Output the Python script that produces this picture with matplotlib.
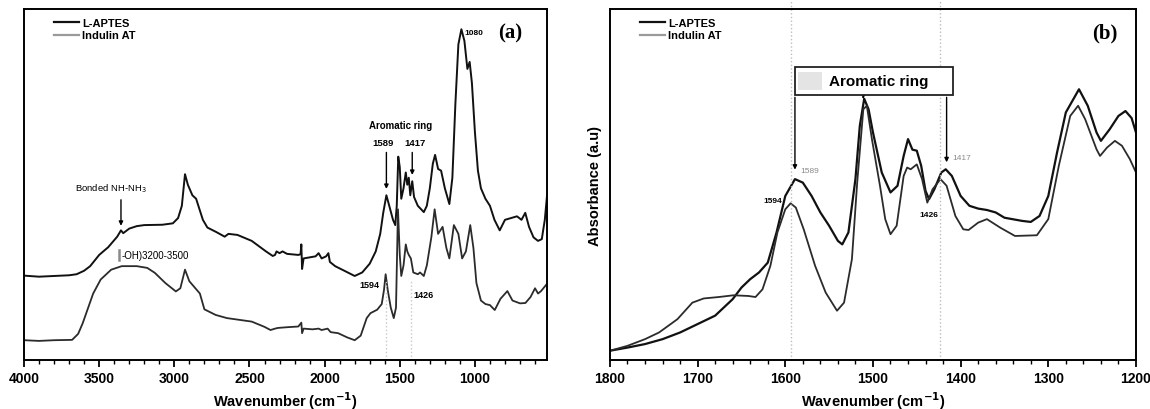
import matplotlib
matplotlib.use("Agg")
import matplotlib.pyplot as plt
from matplotlib.lines import Line2D
from matplotlib.patches import Rectangle
from matplotlib.ticker import MultipleLocator, NullLocator

plt.rcParams['font.family'] = ['Liberation Sans', 'DejaVu Sans']

# ---- panel (a): full range (relative absorbance, stacked)
a_wn_laptes = [4000, 3900, 3800, 3700, 3650, 3600, 3560, 3500, 3440, 3380, 3355, 3340, 3300, 3250, 3200,
               3080, 3010, 2975, 2950, 2929, 2910, 2880, 2855, 2840, 2810, 2780, 2720, 2665, 2640, 2580,
               2485, 2390, 2345, 2330, 2320, 2300, 2280, 2250, 2175, 2160, 2155, 2150, 2140, 2100, 2060,
               2040, 2020, 1990, 1975, 1965, 1930, 1860, 1800, 1750, 1700, 1660, 1630, 1610, 1589, 1570,
               1545, 1530, 1520, 1510, 1500, 1490, 1475, 1460, 1450, 1440, 1430, 1417, 1405, 1380, 1340,
               1320, 1300, 1280, 1265, 1245, 1225, 1200, 1170, 1150, 1130, 1110, 1090, 1070, 1050, 1035,
               1020, 1000, 980, 960, 930, 900, 870, 835, 800, 760, 720, 690, 665, 640, 610,
               580, 555, 535, 520]
a_laptes = [0.241, 0.238, 0.240, 0.242, 0.245, 0.255, 0.268, 0.300, 0.322, 0.352, 0.370, 0.362, 0.375, 0.382, 0.385,
            0.386, 0.390, 0.405, 0.440, 0.530, 0.500, 0.470, 0.460, 0.440, 0.400, 0.378, 0.365, 0.352, 0.360, 0.357,
            0.340, 0.310, 0.297, 0.300, 0.310, 0.305, 0.310, 0.303, 0.300, 0.302, 0.330, 0.260, 0.290, 0.293, 0.296,
            0.305, 0.290, 0.296, 0.305, 0.280, 0.268, 0.253, 0.240, 0.250, 0.275, 0.310, 0.360, 0.420, 0.470, 0.440,
            0.400, 0.385, 0.440, 0.580, 0.550, 0.460, 0.490, 0.535, 0.500, 0.520, 0.470, 0.510, 0.465, 0.440, 0.422,
            0.440, 0.490, 0.560, 0.585, 0.545, 0.540, 0.490, 0.445, 0.520, 0.730, 0.900, 0.943, 0.910, 0.830, 0.850,
            0.790, 0.650, 0.540, 0.490, 0.460, 0.440, 0.400, 0.370, 0.400, 0.405, 0.410, 0.400, 0.420, 0.380, 0.350,
            0.340, 0.345, 0.400, 0.470]

a_wn_indulin = [4000, 3900, 3800, 3680, 3640, 3610, 3540, 3490, 3420, 3350, 3250, 3180, 3130, 3060, 2990,
                2960, 2929, 2900, 2850, 2830, 2800, 2725, 2650, 2485, 2400, 2360, 2330, 2310, 2250, 2175,
                2155, 2150, 2140, 2080, 2040, 2020, 1980, 1960, 1910, 1850, 1800, 1760, 1720, 1695, 1650,
                1620, 1605, 1594, 1580, 1560, 1540, 1525, 1512, 1500, 1490, 1475, 1460, 1450, 1440, 1426,
                1410, 1380, 1365, 1340, 1320, 1290, 1268, 1245, 1215, 1190, 1170, 1140, 1110, 1085, 1060,
                1031, 1010, 990, 960, 930, 900, 868, 830, 784, 750, 700, 664, 630, 600, 580,
                560, 535, 520]
a_indulin = [0.057, 0.055, 0.057, 0.058, 0.075, 0.105, 0.190, 0.230, 0.258, 0.268, 0.268, 0.263, 0.249, 0.220, 0.196,
             0.205, 0.258, 0.225, 0.200, 0.190, 0.145, 0.129, 0.120, 0.110, 0.095, 0.086, 0.090, 0.092, 0.094, 0.096,
             0.107, 0.077, 0.090, 0.088, 0.090, 0.086, 0.090, 0.080, 0.077, 0.065, 0.057, 0.070, 0.120, 0.134, 0.144,
             0.160, 0.200, 0.245, 0.200, 0.150, 0.120, 0.150, 0.430, 0.300, 0.240, 0.270, 0.330, 0.310, 0.300, 0.290,
             0.250, 0.245, 0.250, 0.240, 0.270, 0.350, 0.430, 0.360, 0.380, 0.320, 0.290, 0.385, 0.360, 0.290, 0.310,
             0.385, 0.320, 0.220, 0.170, 0.160, 0.157, 0.143, 0.175, 0.197, 0.170, 0.162, 0.163, 0.180, 0.205, 0.190,
             0.197, 0.210, 0.218]

# ---- panel (b): 1800-1200 zoom
b_wn_laptes = [1800, 1780, 1760, 1740, 1720, 1700, 1680, 1660, 1650, 1640, 1630, 1620, 1610, 1600, 1589,
               1580, 1570, 1560, 1550, 1540, 1535, 1528, 1520, 1515, 1510, 1505, 1500, 1490, 1480, 1472,
               1465, 1460, 1455, 1450, 1445, 1440, 1436, 1430, 1422, 1417, 1410, 1400, 1390, 1380, 1370,
               1360, 1350, 1330, 1320, 1310, 1300, 1290, 1280, 1265, 1255, 1245, 1240, 1230, 1220, 1212,
               1205, 1200]
b_laptes = [0.027, 0.036, 0.046, 0.060, 0.079, 0.103, 0.127, 0.174, 0.207, 0.231, 0.250, 0.278, 0.364, 0.468, 0.516,
            0.506, 0.468, 0.421, 0.383, 0.340, 0.330, 0.364, 0.516, 0.668, 0.745, 0.715, 0.649, 0.535, 0.478, 0.497,
            0.582, 0.630, 0.600, 0.597, 0.554, 0.482, 0.459, 0.487, 0.535, 0.544, 0.525, 0.468, 0.440, 0.432, 0.428,
            0.421, 0.406, 0.397, 0.394, 0.411, 0.468, 0.592, 0.706, 0.772, 0.725, 0.649, 0.625, 0.658, 0.696, 0.710,
            0.690, 0.649]

b_wn_indulin = [1800, 1780, 1760, 1744, 1723, 1706, 1693, 1676, 1659, 1642, 1634, 1626, 1617, 1609, 1600,
                1594, 1588, 1579, 1566, 1554, 1541, 1533, 1524, 1518, 1511, 1507, 1501, 1492, 1486, 1480,
                1473, 1465, 1461, 1457, 1450, 1444, 1438, 1432, 1423, 1416, 1406, 1397, 1391, 1380, 1370,
                1355, 1338, 1313, 1300, 1288, 1275, 1266, 1258, 1245, 1241, 1233, 1224, 1216, 1207, 1200]
b_indulin = [0.027, 0.041, 0.060, 0.079, 0.117, 0.164, 0.176, 0.180, 0.185, 0.183, 0.180, 0.202, 0.269, 0.364, 0.430,
             0.447, 0.435, 0.373, 0.269, 0.193, 0.141, 0.164, 0.288, 0.506, 0.715, 0.725, 0.627, 0.497, 0.402, 0.359,
             0.383, 0.525, 0.549, 0.544, 0.558, 0.516, 0.449, 0.487, 0.516, 0.497, 0.411, 0.373, 0.371, 0.392, 0.402,
             0.378, 0.354, 0.356, 0.402, 0.554, 0.696, 0.725, 0.687, 0.601, 0.582, 0.606, 0.625, 0.611, 0.573, 0.535]

names = ['L-APTES', 'Indulin AT']
c_laptes = '#111111'
c_indulin = '#2b2b2b'

fig = plt.figure(figsize=(11.5, 4.1), dpi=100)
axa = fig.add_axes([0.0209, 0.119, 0.4548, 0.856])
axb = fig.add_axes([0.5304, 0.119, 0.4574, 0.856])


def style_axis(ax, xlim, major, minor):
    ax.set_xlim(*xlim)
    ax.set_ylim(0, 1)
    ax.xaxis.set_major_locator(MultipleLocator(major))
    ax.xaxis.set_minor_locator(MultipleLocator(minor))
    ax.yaxis.set_major_locator(NullLocator())
    ax.tick_params(axis='x', which='major', direction='out', length=5, width=1.3, labelsize=10, pad=3)
    ax.tick_params(axis='x', which='minor', direction='out', length=3, width=1.0)
    for lab in ax.get_xticklabels():
        lab.set_fontweight('bold')
    for s in ax.spines.values():
        s.set_linewidth(1.4)
    ax.set_xlabel('Wavenumber (cm$^{\\mathbf{-1}}$)', fontsize=10.5, fontweight='bold', labelpad=3)


def legend(ax):
    handles = [Line2D([], [], color='#111111', lw=1.6), Line2D([], [], color='#9a9a9a', lw=1.6)]
    ax.legend(handles, names, loc='upper left', bbox_to_anchor=(0.045, 0.995), frameon=False,
              prop={'size': 8, 'weight': 'bold'}, handlelength=2.2, handletextpad=0.3,
              labelspacing=0.25, borderaxespad=0.2)


# ---------- panel (a)
axa.plot(a_wn_laptes, a_laptes, color=c_laptes, lw=1.4)
axa.plot(a_wn_indulin, a_indulin, color=c_indulin, lw=1.3)
style_axis(axa, (4000, 520), 500, 100)
legend(axa)
for wn in (1594, 1426):
    axa.axvline(wn, ymin=0, ymax=0.23, color='#c8c8c8', lw=1.0, ls=':')
axa.text(0.93, 0.935, '(a)', transform=axa.transAxes, ha='center', va='center',
         family=['Liberation Serif', 'DejaVu Serif'], fontweight='bold', fontsize=15)
axa.text(1072, 0.935, '1080', fontsize=6, fontweight='bold', ha='left', va='center')
axa.text(1495, 0.67, 'Aromatic ring', fontsize=7, fontweight='bold', ha='center', va='center')
axa.text(1610, 0.62, '1589', fontsize=6.8, fontweight='bold', ha='center', va='center')
axa.text(1400, 0.62, '1417', fontsize=6.8, fontweight='bold', ha='center', va='center')
axa.annotate('', xy=(1589, 0.48), xytext=(1589, 0.60),
             arrowprops=dict(arrowstyle='-|>', color='k', lw=1.0, mutation_scale=6))
axa.annotate('', xy=(1417, 0.52), xytext=(1417, 0.60),
             arrowprops=dict(arrowstyle='-|>', color='k', lw=1.0, mutation_scale=6))
axa.text(3420, 0.49, 'Bonded NH-NH$_3$', fontsize=6.8, ha='center', va='center')
axa.annotate('', xy=(3355, 0.375), xytext=(3355, 0.465),
             arrowprops=dict(arrowstyle='-|>', color='k', lw=1.0, mutation_scale=6))
axa.axvline(3370, ymin=0.285, ymax=0.315, color='#8a8a8a', lw=1.8)
axa.text(3350, 0.30, '-OH)3200-3500', fontsize=7, ha='left', va='center')
axa.text(1705, 0.215, '1594', fontsize=6.5, fontweight='bold', ha='center', va='center')
axa.text(1345, 0.188, '1426', fontsize=6.5, fontweight='bold', ha='center', va='center')

# ---------- panel (b)
axb.plot(b_wn_laptes, b_laptes, color=c_laptes, lw=1.6)
axb.plot(b_wn_indulin, b_indulin, color=c_indulin, lw=1.3)
style_axis(axb, (1800, 1200), 100, 20)
legend(axb)
axb.set_ylabel('Absorbance (a.u)', fontsize=10.5, fontweight='bold', labelpad=6)
for wn in (1594, 1424):
    axb.axvline(wn, ymin=0, ymax=1.03, color='#bdbdbd', lw=1.0, ls=':', clip_on=False)
axb.text(0.94, 0.935, '(b)', transform=axb.transAxes, ha='center', va='center',
         family=['Liberation Serif', 'DejaVu Serif'], fontweight='bold', fontsize=15)

axb.add_patch(Rectangle((1589, 0.757), -180, 0.078, facecolor='white', edgecolor='#222222', lw=1.3, zorder=4))
axb.add_patch(Rectangle((1585, 0.77), -27, 0.05, facecolor='#e4e4e4', edgecolor='none', zorder=5))
axb.text(1494, 0.796, 'Aromatic ring', fontsize=11, fontweight='bold', ha='center', va='center', zorder=6)
for wn, tip in ((1589, 0.535), (1511, 0.745), (1416, 0.556)):
    axb.annotate('', xy=(wn, tip), xytext=(wn, 0.757),
                 arrowprops=dict(arrowstyle='-|>', color='k', lw=1.0, mutation_scale=6))
axb.text(1583, 0.54, '1589', fontsize=6, color='#8a8a8a', ha='left', va='center')
axb.text(1604, 0.455, '1594', fontsize=6, fontweight='bold', ha='right', va='center')
axb.text(1409, 0.577, '1417', fontsize=6, color='#8a8a8a', ha='left', va='center')
axb.text(1436, 0.415, '1426', fontsize=6, fontweight='bold', ha='center', va='center')

fig.savefig('out.png', dpi=100)
